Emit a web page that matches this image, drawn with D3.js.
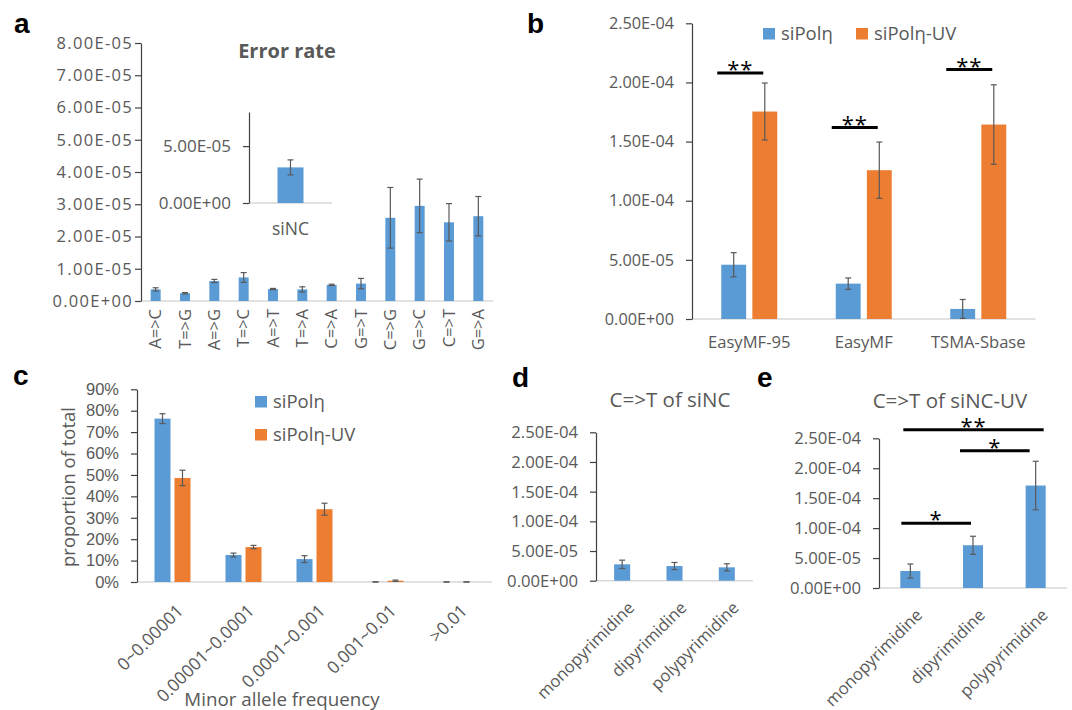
<!DOCTYPE html>
<html><head><meta charset="utf-8">
<script src="https://cdn.jsdelivr.net/npm/d3@7"></script>
<style>html,body{margin:0;padding:0;background:#fff}svg{display:block}</style>
</head><body><div id="chart"></div>
<script>
// ---------- DATA ----------
// panel a
const aCats = ["A=>C","T=>G","A=>G","T=>C","A=>T","T=>A","C=>A","G=>T","C=>G","G=>C","C=>T","G=>A"];
const aVals = [3.6e-6, 2.4e-6, 6.2e-6, 7.3e-6, 3.7e-6, 3.6e-6, 5.0e-6, 5.4e-6, 2.58e-5, 2.95e-5, 2.44e-5, 2.63e-5];
const aErr  = [0.5e-6, 0.2e-6, 0.5e-6, 1.5e-6, 0.2e-6, 0.8e-6, 0.2e-6, 1.6e-6, 0.94e-5, 0.83e-5, 0.58e-5, 0.61e-5];
const aTickVals = [0, 1e-5, 2e-5, 3e-5, 4e-5, 5e-5, 6e-5, 7e-5, 8e-5];
const aTickLabels = ["0.00E+00","1.00E-05","2.00E-05","3.00E-05","4.00E-05","5.00E-05","6.00E-05","7.00E-05","8.00E-05"];
const aTitle = "Error rate";
const insetCats = ["siNC"];
const insetVals = [3.13e-5];
const insetErr = [0.66e-5];
const insetTickVals = [0, 5e-5];
const insetTickLabels = ["0.00E+00","5.00E-05"];
// panel b
const bCats = ["EasyMF-95","EasyMF","TSMA-Sbase"];
const bSeries = ["siPolη","siPolη-UV"];
const bPolh = [4.59e-5, 2.99e-5, 0.85e-5];
const bPolhErr = [1.02e-5, 0.48e-5, 0.80e-5];
const bPolhUV = [1.754e-4, 1.258e-4, 1.644e-4];
const bPolhUVErr = [2.41e-5, 2.38e-5, 3.36e-5];
const bSigLevels = [2.079e-4, 1.618e-4, 2.109e-4];
const bSigLabels = ["**","**","**"];
const bTickVals = [0, 5e-5, 1e-4, 1.5e-4, 2e-4, 2.5e-4];
const bTickLabels = ["0.00E+00","5.00E-05","1.00E-04","1.50E-04","2.00E-04","2.50E-04"];
// panel c
const cCats = ["0~0.00001","0.00001~0.0001","0.0001~0.001","0.001~0.01",">0.01"];
const cPolh = [0.763, 0.126, 0.107, 0.0005, 0.0002];
const cPolhErr = [0.023, 0.009, 0.016, 0.0003, 0.0001];
const cPolhUV = [0.486, 0.163, 0.340, 0.006, 0.0003];
const cPolhUVErr = [0.036, 0.008, 0.028, 0.003, 0.0002];
const cTickVals = [0, 0.1, 0.2, 0.3, 0.4, 0.5, 0.6, 0.7, 0.8, 0.9];
const cTickLabels = ["0%","10%","20%","30%","40%","50%","60%","70%","80%","90%"];
const cYTitle = "proportion of total";
const cXTitle = "Minor allele frequency";
// panels d, e
const deCats = ["monopyrimidine","dipyrimidine","polypyrimidine"];
const dVals = [2.76e-5, 2.47e-5, 2.25e-5];
const dErr = [0.7e-5, 0.6e-5, 0.6e-5];
const dTitle = "C=>T of siNC";
const eVals = [2.84e-5, 7.14e-5, 1.711e-4];
const eErr = [1.17e-5, 1.5e-5, 4.05e-5];
const eTitle = "C=>T of siNC-UV";
const eSigFrom = [0, 1, 0];
const eSigTo = [2, 2, 1];
const eSigLevels = [2.642e-4, 2.291e-4, 1.082e-4];
const eSigLabels = ["**","*","*"];
const deTickVals = bTickVals;
const deTickLabels = bTickLabels;

// ---------- STYLE ----------
const BLUE = "#5B9BD5", ORANGE = "#ED7D31", TXT = "#595959", AX = "#404040", GRID = "#D9D9D9";
const F = "'Open Sans', 'Noto Sans', sans-serif";
const FL = "'Liberation Sans', Arial, sans-serif";

const svg = d3.select("#chart").append("svg").attr("width",1072).attr("height",710)
  .style("background","#fff");

function yAxis(x0, y, vals, labels, size, pad, ls, ff) {
  const ax = d3.axisLeft(y).tickValues(vals).tickFormat((d,i)=>labels[i])
    .tickSizeOuter(0).tickSizeInner(6).tickPadding(pad);
  const g = svg.append("g").attr("transform",`translate(${x0},0)`).call(ax)
    .attr("font-family", ff || F).attr("font-size", size);
  g.select(".domain").attr("stroke", AX).attr("stroke-width",1.2);
  g.selectAll(".tick line").attr("stroke", AX).attr("stroke-width",1.2);
  g.selectAll(".tick text").attr("fill", TXT).style("letter-spacing", ls ? ls+"px" : null);
  return g;
}
function baseline(x, y) {
  const r = x.range();
  svg.append("line").attr("x1",r[0]).attr("x2",r[1]).attr("y1",y(0)).attr("y2",y(0))
    .attr("stroke",GRID).attr("stroke-width",1.5);
}
function bars(data, y, color) { // data: {cx, w, v, e}
  const g = svg.append("g");
  g.selectAll("rect").data(data).join("rect")
    .attr("x", d=>d.cx - d.w/2).attr("width", d=>d.w)
    .attr("y", d=>y(d.v)).attr("height", d=>y(0)-y(d.v)).attr("fill", color);
  const eb = g.selectAll("g.eb").data(data).join("g").attr("class","eb")
    .attr("stroke","#595959").attr("stroke-width",1.2);
  eb.append("line").attr("x1",d=>d.cx).attr("x2",d=>d.cx)
    .attr("y1",d=>y(Math.max(0,d.v-d.e))).attr("y2",d=>y(d.v+d.e));
  eb.append("line").attr("x1",d=>d.cx-3).attr("x2",d=>d.cx+3)
    .attr("y1",d=>y(d.v+d.e)).attr("y2",d=>y(d.v+d.e));
  eb.append("line").attr("x1",d=>d.cx-3).attr("x2",d=>d.cx+3)
    .attr("y1",d=>y(Math.max(0,d.v-d.e))).attr("y2",d=>y(Math.max(0,d.v-d.e)));
}
function text(x, y, s, size, opts={}) {
  return svg.append("text").attr("x",x).attr("y",y).text(s)
    .attr("font-family", opts.ff || F).attr("font-size", size)
    .attr("font-weight", opts.bold ? "bold" : null)
    .attr("fill", opts.fill || TXT).attr("text-anchor", opts.anchor || "middle");
}
function rotLabel(x, y, s, size, angle) {
  svg.append("text").text(s).attr("transform",`translate(${x},${y}) rotate(${angle})`)
    .attr("dy","0.35em").attr("text-anchor","end").attr("font-family",F)
    .attr("font-size",size).attr("fill",TXT);
}
function sig(x1, x2, yv, label) {
  svg.append("line").attr("x1",x1).attr("x2",x2).attr("y1",yv).attr("y2",yv)
    .attr("stroke","#000").attr("stroke-width",3);
  text((x1+x2)/2, yv+4, label, 22, {fill:"#000"}).style("letter-spacing","1px");
}

// ---------- PANEL LETTERS ----------
[["a",14,33],["b",527,33],["c",13,385],["d",512,387],["e",757,387]].forEach(([t,x,y])=>
  text(x,y,t,28,{ff:FL,bold:true,fill:"#000",anchor:"start"}));

// ---------- PANEL A ----------
{
  const y = d3.scaleLinear().domain([0,8e-5]).range([301,43]);
  const x = d3.scaleBand().domain(aCats).range([141,493]);
  baseline(x, y);
  yAxis(141, y, aTickVals, aTickLabels, 16.5, 2, 1.3);
  bars(aCats.map((c,i)=>({cx:x(c)+x.bandwidth()/2, w:x.bandwidth()*0.34, v:aVals[i], e:aErr[i]})), y, BLUE);
  aCats.forEach(c=> rotLabel(x(c)+x.bandwidth()/2, 309, c, 16.5, -90));
  text(287, 58, aTitle, 20, {bold:true});
  // inset
  const yi = d3.scaleLinear().domain([0,8e-5]).range([203,112]);
  const xi = d3.scaleBand().domain(insetCats).range([249,332]);
  baseline(xi, yi);
  yAxis(249, yi, insetTickVals, insetTickLabels, 17, 12, 0);
  bars(insetCats.map((c,i)=>({cx:xi(c)+xi.bandwidth()/2, w:26, v:insetVals[i], e:insetErr[i]})), yi, BLUE);
  text(xi(insetCats[0])+xi.bandwidth()/2, 235, insetCats[0], 17.5);
}

// ---------- PANEL B ----------
{
  const y = d3.scaleLinear().domain([0,2.5e-4]).range([319,23.3]);
  const x = d3.scaleBand().domain(bCats).range([692,1035.5]);
  const xs = d3.scaleBand().domain(bSeries).range([-28,28]).paddingInner(0.2);
  baseline(x, y);
  yAxis(692, y, bTickVals, bTickLabels, 16.3, 12, 0);
  const cx = c => x(c)+x.bandwidth()/2;
  bars(bCats.map((c,i)=>({cx:cx(c)+xs(bSeries[0])+xs.bandwidth()/2, w:xs.bandwidth(), v:bPolh[i], e:bPolhErr[i]})), y, BLUE);
  bars(bCats.map((c,i)=>({cx:cx(c)+xs(bSeries[1])+xs.bandwidth()/2, w:xs.bandwidth(), v:bPolhUV[i], e:bPolhUVErr[i]})), y, ORANGE);
  bCats.forEach((c,i)=>{
    text(cx(c), 348, c, 16.6);
    sig(cx(c)-32, cx(c)+14, y(bSigLevels[i]), bSigLabels[i]);
  });
  // legend
  [[763,BLUE,bSeries[0]],[856,ORANGE,bSeries[1]]].forEach(([lx,col,s])=>{
    svg.append("rect").attr("x",lx).attr("y",28).attr("width",12).attr("height",11.5).attr("fill",col);
    text(lx+18, 40, s, 18.5, {anchor:"start"});
  });
}

// ---------- PANEL C ----------
{
  const y = d3.scaleLinear().domain([0,0.9]).range([582,389.3]);
  const x = d3.scaleBand().domain(cCats).range([137,492]);
  const xs = d3.scaleBand().domain(bSeries).range([-18,18]).paddingInner(0.2);
  baseline(x, y);
  yAxis(137, y, cTickVals, cTickLabels, 16.5, 12, 0, FL);
  const cx = c => x(c)+x.bandwidth()/2;
  bars(cCats.map((c,i)=>({cx:cx(c)+xs(bSeries[0])+xs.bandwidth()/2, w:xs.bandwidth(), v:cPolh[i], e:cPolhErr[i]})), y, BLUE);
  bars(cCats.map((c,i)=>({cx:cx(c)+xs(bSeries[1])+xs.bandwidth()/2, w:xs.bandwidth(), v:cPolhUV[i], e:cPolhUVErr[i]})), y, ORANGE);
  cCats.forEach(c=> rotLabel(cx(c)+7.5, y(0)+25.5, c, 17.5, -45));
  svg.append("text").text(cYTitle).attr("transform","translate(75,487) rotate(-90)")
    .attr("text-anchor","middle").attr("font-family",F).attr("font-size",18.5).attr("fill",TXT);
  text(282, 706, cXTitle, 18.75);
  [[396,BLUE,bSeries[0]],[429,ORANGE,bSeries[1]]].forEach(([ly,col,s])=>{
    svg.append("rect").attr("x",255).attr("y",ly).attr("width",12).attr("height",11.5).attr("fill",col);
    text(273, ly+12, s, 18.5, {anchor:"start"});
  });
}

// ---------- PANELS D, E ----------
function dePanel(x0, x1, y0, yTop, vals, errs, frac, title, tx, ty) {
  const y = d3.scaleLinear().domain([0,2.5e-4]).range([y0,yTop]);
  const x = d3.scaleBand().domain(deCats).range([x0,x1]);
  baseline(x, y);
  yAxis(x0, y, deTickVals, deTickLabels, 16.7, 12, 0);
  const cx = c => x(c)+x.bandwidth()/2;
  bars(deCats.map((c,i)=>({cx:cx(c), w:x.bandwidth()*frac, v:vals[i], e:errs[i]})), y, BLUE);
  deCats.forEach(c=> rotLabel(cx(c)+9, y(0)+24, c, 16.7, -45));
  text(tx, ty, title, 20.5);
  return {x, y, cx};
}
dePanel(596, 753, 580.7, 432.3, dVals, dErr, 0.306, dTitle, 670, 407);
{
  const p = dePanel(879, 1067, 588, 438.3, eVals, eErr, 0.32, eTitle, 950, 408);
  const off = [[-7,8],[-13,-6],[-9,-2]];
  eSigLevels.forEach((lv,i)=>{
    sig(p.cx(deCats[eSigFrom[i]])+off[i][0], p.cx(deCats[eSigTo[i]])+off[i][1], p.y(lv), eSigLabels[i]);
  });
}
</script></body></html>
